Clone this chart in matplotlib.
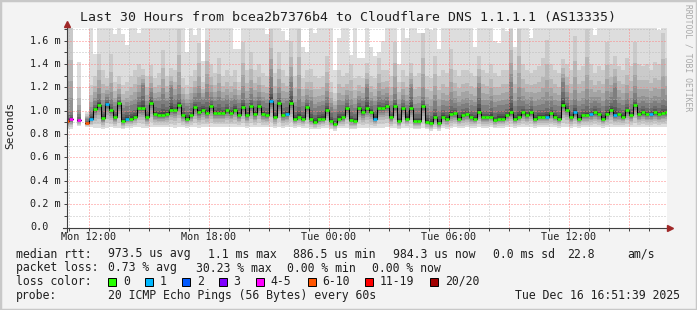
import numpy as np
import pandas as pd
import matplotlib
matplotlib.use("Agg")
import matplotlib.pyplot as plt
import matplotlib.dates as mdates
from matplotlib.patches import Rectangle

nan = np.nan

# 12 minute rrd steps, the first one starts Mon 10:48
step_start = pd.date_range("2025-12-15 10:48", periods=151, freq="12min")
view_start = pd.Timestamp("2025-12-15 10:54")
view_end = pd.Timestamp("2025-12-16 16:54")

# median rtt per step (ms)
median_ms = [
    0.911, 0.926, nan, 0.917, nan, 0.897, 0.934, 1.014, 1.050, 0.937,
    1.057, 1.003, 0.943, 1.066, 0.911, 0.934, 0.934, 0.951, 1.020, 1.020,
    0.943, 1.071, 0.969, 0.960, 0.960, 0.971, 1.011, 1.003, 1.054, 0.960,
    0.934, 0.960, 1.029, 0.986, 1.011, 0.980, 1.037, 0.980, 0.980, 0.980,
    1.003, 0.980, 1.011, 0.960, 1.029, 0.960, 1.037, 0.969, 1.037, 0.969,
    0.960, 1.083, 0.951, 1.063, 0.960, 0.969, 1.071, 0.934, 0.951, 0.934,
    1.029, 0.926, 0.903, 0.926, 0.934, 1.011, 0.914, 0.883, 0.934, 0.943,
    1.020, 0.917, 0.909, 1.020, 0.986, 1.020, 0.994, 0.934, 1.020, 1.020,
    1.037, 0.943, 1.037, 0.909, 1.020, 0.934, 1.020, 0.909, 0.909, 1.037,
    0.903, 0.894, 0.943, 0.894, 0.951, 0.929, 0.969, 0.977, 0.934, 0.960,
    0.969, 0.943, 0.934, 0.994, 0.943, 0.943, 0.951, 0.917, 0.934, 0.934,
    0.960, 0.986, 0.934, 0.951, 0.986, 0.960, 0.986, 0.934, 0.951, 0.951,
    0.951, 0.980, 0.951, 0.934, 1.054, 1.011, 0.943, 0.986, 0.934, 0.960,
    0.960, 0.969, 0.986, 0.969, 0.934, 0.969, 1.011, 0.960, 0.969, 0.951,
    1.003, 0.960, 1.046, 0.969, 0.986, 0.969, 0.969, 0.986, 0.969, 0.980, 0.986,
]

# lost pings (of 20) per step
loss = [
    8, 5, 0, 5, 0, 7, 1, 0, 0, 0,
    1, 0, 0, 0, 0, 1, 0, 0, 0, 0,
    0, 0, 0, 0, 0, 0, 0, 0, 0, 0,
    0, 0, 0, 0, 0, 0, 0, 0, 0, 0,
    0, 0, 0, 0, 0, 0, 0, 0, 0, 0,
    0, 1, 0, 0, 0, 1, 0, 0, 0, 0,
    0, 0, 0, 0, 0, 0, 0, 0, 0, 0,
    0, 0, 0, 0, 0, 0, 0, 1, 0, 0,
    0, 0, 0, 0, 0, 0, 0, 0, 0, 0,
    0, 0, 0, 0, 0, 0, 0, 0, 0, 0,
    0, 0, 0, 0, 0, 0, 0, 0, 0, 0,
    0, 0, 0, 0, 0, 0, 0, 0, 0, 0,
    1, 0, 0, 0, 0, 0, 0, 1, 0, 0,
    0, 1, 0, 0, 0, 0, 0, 1, 0, 0,
    0, 0, 0, 0, 0, 0, 1, 0, 0, 0, 0,
]

# smoke: fastest ping, top of the dark core, top of the mid grey, slowest ping
smoke_low = [
    0.84, 0.84, nan, 0.87, nan, 0.86, 0.86, 0.85, 0.85, 0.84,
    0.85, 0.86, 0.85, 0.85, 0.84, 0.85, 0.85, 0.86, 0.86, 0.85,
    0.85, 0.86, 0.86, 0.86, 0.86, 0.86, 0.86, 0.85, 0.86, 0.86,
    0.85, 0.86, 0.86, 0.85, 0.86, 0.86, 0.86, 0.86, 0.86, 0.86,
    0.86, 0.86, 0.86, 0.86, 0.86, 0.85, 0.86, 0.86, 0.86, 0.86,
    0.86, 0.86, 0.85, 0.86, 0.85, 0.86, 0.86, 0.85, 0.86, 0.85,
    0.85, 0.84, 0.84, 0.84, 0.85, 0.85, 0.84, 0.83, 0.85, 0.85,
    0.85, 0.84, 0.84, 0.85, 0.85, 0.85, 0.85, 0.85, 0.85, 0.85,
    0.86, 0.85, 0.85, 0.84, 0.85, 0.85, 0.85, 0.84, 0.84, 0.85,
    0.84, 0.83, 0.84, 0.83, 0.85, 0.84, 0.85, 0.86, 0.85, 0.85,
    0.86, 0.85, 0.85, 0.86, 0.85, 0.85, 0.86, 0.85, 0.85, 0.85,
    0.86, 0.86, 0.85, 0.86, 0.86, 0.86, 0.86, 0.85, 0.86, 0.86,
    0.86, 0.86, 0.86, 0.85, 0.86, 0.86, 0.85, 0.86, 0.85, 0.86,
    0.86, 0.86, 0.86, 0.86, 0.85, 0.86, 0.86, 0.86, 0.86, 0.86,
    0.86, 0.86, 0.86, 0.86, 0.86, 0.86, 0.86, 0.86, 0.86, 0.86, 0.86,
]
smoke_dark = [
    1.00, 1.00, nan, 0.97, nan, 0.93, 1.00, 1.08, 1.14, 1.05,
    1.12, 1.10, 1.04, 1.12, 1.02, 1.04, 1.05, 1.06, 1.12, 1.22,
    1.05, 1.16, 1.08, 1.08, 1.14, 1.08, 1.20, 1.10, 1.14, 1.07,
    1.04, 1.07, 1.12, 1.15, 1.10, 1.16, 1.12, 1.08, 1.12, 1.08,
    1.10, 1.08, 1.10, 1.07, 1.15, 1.07, 1.14, 1.08, 1.12, 1.08,
    1.07, 1.30, 1.06, 1.15, 1.07, 1.08, 1.25, 1.04, 1.10, 1.04,
    1.10, 1.08, 1.02, 1.04, 1.05, 1.12, 1.03, 0.99, 1.05, 1.05,
    1.10, 1.05, 1.02, 1.10, 1.08, 1.20, 1.08, 1.05, 1.12, 1.10,
    1.12, 1.05, 1.14, 1.02, 1.10, 1.05, 1.20, 1.02, 1.02, 1.12,
    1.02, 1.00, 1.08, 1.00, 1.05, 1.04, 1.10, 1.07, 1.04, 1.06,
    1.07, 1.05, 1.04, 1.20, 1.05, 1.05, 1.08, 1.03, 1.05, 1.05,
    1.06, 1.25, 1.04, 1.12, 1.08, 1.06, 1.08, 1.04, 1.05, 1.06,
    1.08, 1.08, 1.05, 1.04, 1.25, 1.12, 1.05, 1.10, 1.04, 1.06,
    1.10, 1.07, 1.08, 1.07, 1.04, 1.10, 1.12, 1.20, 1.07, 1.05,
    1.10, 1.06, 1.15, 1.07, 1.08, 1.07, 1.07, 1.08, 1.07, 1.10, 1.08,
]
smoke_mid = [
    1.72, 1.72, nan, 1.20, nan, 0.97, 1.22, 1.30, 1.49, 1.35,
    1.28, 1.49, 1.25, 1.30, 1.22, 1.25, 1.30, 1.35, 1.40, 1.36,
    1.30, 1.39, 1.28, 1.32, 1.52, 1.30, 1.37, 1.35, 1.70, 1.28,
    1.22, 1.30, 1.35, 1.58, 1.25, 1.61, 1.40, 1.32, 1.45, 1.30,
    1.35, 1.30, 1.35, 1.25, 1.59, 1.35, 1.50, 1.35, 1.40, 1.32,
    1.30, 1.70, 1.32, 1.50, 1.35, 1.30, 1.60, 1.30, 1.70, 1.28,
    1.35, 1.36, 1.30, 1.28, 1.30, 1.47, 1.25, 1.15, 1.35, 1.30,
    1.32, 1.40, 1.28, 1.30, 1.28, 1.41, 1.30, 1.28, 1.45, 1.35,
    1.35, 1.30, 1.59, 1.25, 1.35, 1.30, 1.41, 1.30, 1.32, 1.67,
    1.30, 1.28, 1.47, 1.30, 1.35, 1.32, 1.53, 1.35, 1.30, 1.35,
    1.35, 1.32, 1.30, 1.47, 1.35, 1.32, 1.40, 1.32, 1.30, 1.35,
    1.35, 1.70, 1.35, 1.70, 1.40, 1.35, 1.32, 1.35, 1.38, 1.45,
    1.61, 1.40, 1.35, 1.32, 1.44, 1.40, 1.35, 1.64, 1.35, 1.38,
    1.70, 1.40, 1.32, 1.38, 1.35, 1.59, 1.40, 1.47, 1.38, 1.35,
    1.45, 1.38, 1.59, 1.40, 1.38, 1.40, 1.35, 1.42, 1.40, 1.67, 1.45,
]
smoke_high = [
    1.72, 1.72, nan, 1.42, nan, 0.99, 1.72, 1.49, 1.72, 1.72,
    1.72, 1.72, 1.66, 1.72, 1.66, 1.56, 1.72, 1.72, 1.67, 1.72,
    1.72, 1.72, 1.72, 1.72, 1.72, 1.72, 1.72, 1.72, 1.72, 1.72,
    1.50, 1.72, 1.65, 1.72, 1.43, 1.72, 1.72, 1.72, 1.72, 1.72,
    1.72, 1.72, 1.53, 1.53, 1.72, 1.72, 1.72, 1.72, 1.72, 1.72,
    1.66, 1.72, 1.72, 1.72, 1.68, 1.61, 1.72, 1.72, 1.72, 1.55,
    1.50, 1.72, 1.67, 1.72, 1.72, 1.72, 1.72, 1.35, 1.62, 1.72,
    1.72, 1.48, 1.72, 1.45, 1.45, 1.72, 1.55, 1.47, 1.50, 1.60,
    1.72, 1.72, 1.72, 1.40, 1.72, 1.62, 1.72, 1.72, 1.67, 1.67,
    1.72, 1.69, 1.72, 1.53, 1.72, 1.72, 1.72, 1.72, 1.72, 1.72,
    1.72, 1.72, 1.55, 1.72, 1.72, 1.72, 1.72, 1.60, 1.58, 1.72,
    1.68, 1.72, 1.55, 1.72, 1.72, 1.72, 1.62, 1.72, 1.72, 1.72,
    1.72, 1.72, 1.72, 1.72, 1.72, 1.72, 1.72, 1.72, 1.72, 1.72,
    1.72, 1.72, 1.65, 1.72, 1.72, 1.72, 1.72, 1.72, 1.72, 1.72,
    1.72, 1.72, 1.72, 1.72, 1.72, 1.72, 1.72, 1.72, 1.69, 1.72, 1.72,
]

loss_labels = ["0", "1", "2", "3", "4-5", "6-10", "11-19", "20/20"]
loss_upper = [0, 1, 2, 3, 5, 10, 19, 20]
loss_colors = ["#26ff00", "#00b8ff", "#0059ff", "#7e00ff",
               "#ff00ff", "#ff5500", "#ff0000", "#a10000"]

W, H = 697, 310
MONO = "DejaVu Sans Mono"


def fx(x):
    return x / W


def fy(y):
    return 1 - y / H


med = np.array(median_ms)
lo = np.array(smoke_low)
dk = np.array(smoke_dark)
md = np.array(smoke_mid)
hi = np.array(smoke_high)

edges = mdates.date2num(list(step_start) + [step_start[-1] + pd.Timedelta("12min")])
# x for a hand made step outline: every value is held over its own 12 minutes
step_x = np.repeat(edges, 2)[1:-1]


def held(a):
    return np.repeat(a, 2)


fig = plt.figure(figsize=(W / 100, H / 100), dpi=100, facecolor="#f3f3f3")
ax = fig.add_axes([fx(67), fy(227.5), 600 / W, 200 / H])
ax.set_facecolor("white")

# smoke: 10 nested bands, outermost lightest
greys = [221, 202, 183, 164, 145, 126, 107, 88, 69, 50]
low_frac = [0.0, 0.2, 0.4, 0.55, 0.68, 0.78, 0.86, 0.92, 0.96, 0.985]
up_spec = [(md, hi, 1.0), (dk, md, 1.0), (dk, md, 0.6), (dk, md, 0.35), (dk, md, 0.15),
           (med, dk, 1.0), (med, dk, 0.55), (med, dk, 0.3), (med, dk, 0.15), (med, dk, 0.05)]
for g, f, (a, b, u) in zip(greys, low_frac, up_spec):
    bottom = lo + f * (med - lo)
    top = a + u * (b - a)
    c = (g / 255, g / 255, g / 255)
    ax.fill_between(step_x, held(bottom), held(top), color=c, lw=0, zorder=1)

# grid
dots = (0, (1, 2))
for v in np.arange(0.1, 1.75, 0.2):
    ax.axhline(v, color="#b8b8b8", lw=0.72, ls=dots, alpha=0.9, zorder=2)
for v in np.arange(0.2, 1.65, 0.2):
    ax.axhline(v, color="#ff8080", lw=0.72, ls=dots, alpha=0.95, zorder=2)
hours = pd.date_range("2025-12-15 11:00", "2025-12-16 16:00", freq="1h")
majors = pd.date_range("2025-12-15 12:00", "2025-12-16 15:00", freq="3h")
for t in hours:
    if t not in majors:
        ax.axvline(mdates.date2num(t), color="#b8b8b8", lw=0.72, ls=dots, alpha=0.9, zorder=2)
for t in majors:
    ax.axvline(mdates.date2num(t), color="#ff8080", lw=0.72, ls=dots, alpha=0.95, zorder=2)

# median line, coloured by loss
ax.plot(step_x, held(med), color="black", lw=0.75, zorder=3)
seg_colors = [loss_colors[np.searchsorted(loss_upper, n)] for n in loss]
ax.hlines(med, edges[:-1], edges[1:], colors=seg_colors, lw=1.9, zorder=4)

ax.set_xlim(mdates.date2num(view_start), mdates.date2num(view_end))
ax.set_ylim(0, 1.714)
for s in ax.spines.values():
    s.set_visible(False)
ax.set_xticks(mdates.date2num(majors))
ax.set_xticks(mdates.date2num(hours), minor=True)
ax.set_yticks(np.arange(0, 1.7, 0.2))
ax.set_yticks(np.arange(0.1, 1.75, 0.2), minor=True)
ax.tick_params(which="both", direction="out", length=2, width=0.7, color="#404040",
               labelbottom=False, labelleft=False)

# axis lines with arrows
ax.plot([0, 0], [-0.02, 1.02], color="#404040", lw=0.8, transform=ax.transAxes, clip_on=False, zorder=5)
ax.plot([-0.007, 1.005], [0, 0], color="#404040", lw=0.8, transform=ax.transAxes, clip_on=False, zorder=5)
ax.plot([0], [1.02], marker="^", ms=4.5, color="#a02828", mec="#a02828",
        transform=ax.transAxes, clip_on=False, zorder=6)
ax.plot([1.005], [0], marker=">", ms=4.5, color="#a02828", mec="#a02828",
        transform=ax.transAxes, clip_on=False, zorder=6)

# axis labels
tick_font = dict(family=MONO, fontsize=7.3, color="#202020")
for t, name in zip(pd.date_range("2025-12-15 12:00", periods=5, freq="6h"),
                   ["Mon 12:00", "Mon 18:00", "Tue 00:00", "Tue 06:00", "Tue 12:00"]):
    ax.text(mdates.date2num(t), -0.05, name, ha="center", va="center",
            transform=ax.get_xaxis_transform(), **tick_font)
for v in np.arange(0, 1.7, 0.2):
    lab = "0.0" if v == 0 else "%.1f m" % v
    fig.text(fx(30), fy(227.5 - v * 116.7), lab, ha="left", va="center", **tick_font)

fig.text(fx(10), fy(125), "Seconds", rotation=90, ha="center", va="center",
         family=MONO, fontsize=8, color="#202020")
fig.text(fx(347.5), fy(18), "Last 30 Hours from bcea2b7376b4 to Cloudflare DNS 1.1.1.1 (AS13335)",
         ha="center", va="center", family=MONO, fontsize=9.5, color="#202020")
fig.text(fx(688), fy(58), "RRDTOOL / TOBI OETIKER", rotation=270, ha="center", va="center",
         family=MONO, fontsize=5.8, color="#a8a8a8")

# legend block
leg = dict(family=MONO, fontsize=8.3, color="#202020", va="center", ha="left")
line1 = [("median rtt:", 16), ("973.5 us avg", 107.6), ("1.1 ms max", 207.6),
         ("886.5 us min", 293.3), ("984.3 us now", 392.9), ("0.0 ms sd", 493.3),
         ("22.8", 567), ("am/s", 627)]
line2 = [("packet loss:", 16), ("0.73 % avg", 107.6), ("30.23 % max", 196.4),
         ("0.00 % min", 286.7), ("0.00 % now", 372.4)]
for s, x in line1:
    fig.text(fx(x), fy(254), s, **leg)
for s, x in line2:
    fig.text(fx(x), fy(268), s, **leg)
fig.text(fx(16), fy(281.5), "loss color:", **leg)
box_x = [108.4, 145.3, 182.2, 219, 256.4, 307.6, 365.3, 430.2]
for bx, lab, c in zip(box_x, loss_labels, loss_colors):
    fig.patches.append(Rectangle((fx(bx), fy(285.5)), 8 / W, 8 / H, transform=fig.transFigure,
                                 facecolor=c, edgecolor="black", lw=0.7, figure=fig))
    fig.text(fx(bx + 14.5), fy(281.5), lab, **leg)
fig.text(fx(16), fy(295.5), "probe:", **leg)
fig.text(fx(107.6), fy(295.5), "20 ICMP Echo Pings (56 Bytes) every 60s", **leg)
fig.text(fx(680), fy(295.5), "Tue Dec 16 16:51:39 2025",
         family=MONO, fontsize=8.3, color="#202020", va="center", ha="right")

# outer frame
fig.patches.append(Rectangle((0, 0), 1, 1, transform=fig.transFigure, fill=False,
                             edgecolor="#c8c8c8", lw=2.5, figure=fig))

fig.savefig("out.png", dpi=100, facecolor=fig.get_facecolor())
